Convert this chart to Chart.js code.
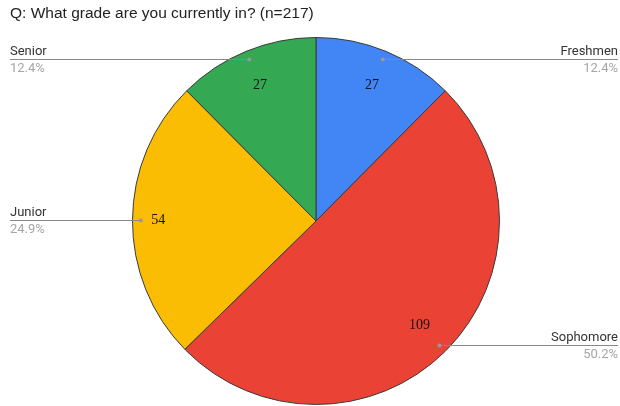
<!DOCTYPE html>
<html>
<head>
<meta charset="utf-8">
<script src="https://cdn.jsdelivr.net/npm/chart.js@4"></script>
<style>
  body { margin: 0; background: #fff; }
  canvas { display: block; }
</style>
</head>
<body>
<canvas id="gradeChart" width="620" height="406"></canvas>
<script>
const grades = ["Freshmen", "Sophomore", "Junior", "Senior"];
const counts = [27, 109, 54, 27];
const sliceColors = ["#4285F4", "#EA4335", "#FBBC04", "#34A853"];
const chartTitle = "Q: What grade are you currently in? (n=217)";

//Plugin to draw title, value labels and leader lines like the Sheets chart
const sheetLabels = {
  id: 'sheetLabels',
  afterDraw(chart) {
    const ctx = chart.ctx;
    const arcs = chart.getDatasetMeta(0).data;
    const total = counts.reduce((a, b) => a + b, 0);
    const W = chart.width;

    ctx.save();
    ctx.fillStyle = '#222';
    ctx.font = '15.5px "Liberation Sans", Arial, sans-serif';
    ctx.textAlign = 'left';
    ctx.textBaseline = 'middle';
    ctx.fillText(chartTitle, 10, 14);

    arcs.forEach((arc, i) => {
      const mid = (arc.startAngle + arc.endAngle) / 2;
      const r = arc.outerRadius;
      const cx = arc.x, cy = arc.y;

      // value label inside slice
      const vr = r * (counts[i] === 54 ? 0.86 : 0.8);
      ctx.fillStyle = '#111';
      ctx.font = '14px "Liberation Serif", serif';
      ctx.textAlign = 'center';
      ctx.textBaseline = 'middle';
      ctx.fillText(String(counts[i]), cx + Math.cos(mid) * vr, cy + Math.sin(mid) * vr);

      // leader line + outside label
      const dx = cx + Math.cos(mid) * r * 0.955;
      const dy = cy + Math.sin(mid) * r * 0.955;
      const right = Math.cos(mid) > 0;
      const ex = right ? W - 2 : 10;
      ctx.strokeStyle = '#888';
      ctx.lineWidth = 1;
      ctx.beginPath();
      ctx.moveTo(dx, Math.round(dy) + 0.5);
      ctx.lineTo(ex, Math.round(dy) + 0.5);
      ctx.stroke();
      ctx.fillStyle = '#999';
      ctx.beginPath();
      ctx.arc(dx, Math.round(dy) + 0.5, 2, 0, Math.PI * 2);
      ctx.fill();

      ctx.textAlign = right ? 'right' : 'left';
      ctx.font = '13px Roboto, sans-serif';
      ctx.fillStyle = '#333';
      ctx.textBaseline = 'bottom';
      ctx.fillText(grades[i], ex, Math.round(dy) - 1);
      ctx.fillStyle = '#a6a6a6';
      ctx.textBaseline = 'top';
      ctx.fillText((counts[i] / total * 100).toFixed(1) + '%', ex, Math.round(dy) + 3);
    });
    ctx.restore();
  }
};

window.addEventListener('DOMContentLoaded', function () {
  const ctx = document.getElementById('gradeChart').getContext('2d');

  new Chart(ctx, {
    type: 'pie',
    data: {
      labels: grades,
      datasets: [{
        data: counts,
        backgroundColor: sliceColors,
        borderColor: '#3a3a3a',
        borderWidth: 1
      }]
    },
    options: {
      responsive: false,
      animation: false,
      layout: {
        padding: { top: 37, bottom: 1, left: 132, right: 120 }
      },
      plugins: {
        legend: { display: false },
        tooltip: { enabled: false },
        title: { display: false }
      }
    },
    plugins: [sheetLabels]
  });
});
</script>
</body>
</html>
